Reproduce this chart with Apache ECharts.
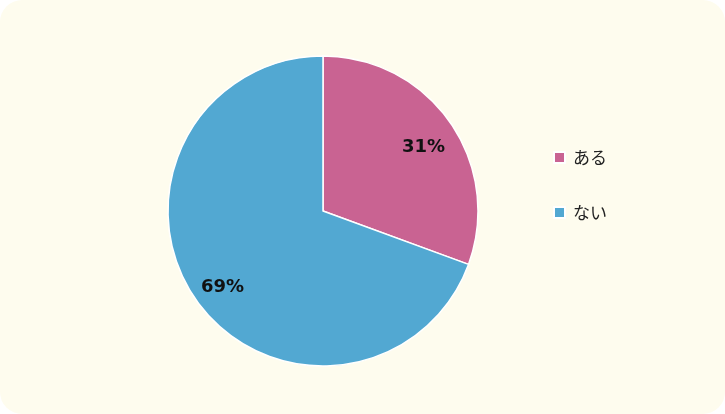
<!DOCTYPE html>
<html><head><meta charset="utf-8">
<script src="https://cdn.jsdelivr.net/npm/echarts@6/dist/echarts.min.js"></script>
<style>
html,body{margin:0;padding:0;background:#ffffff;}
#wrap{position:absolute;left:0;top:0;width:725px;height:414px;background:#FEFCEE;border-radius:22px;overflow:hidden;}
#c{width:725px;height:414px;}
</style></head><body>
<div id="wrap"><div id="c"></div></div>
<script>
var categories = ['ある', 'ない'];
var values = [30.6, 69.4];
var colors = ['#C96392', '#52A8D2'];

var chart = echarts.init(document.getElementById('c'), null, {renderer:'canvas'});
var data = categories.map(function(n,i){return {name:n, value:values[i], itemStyle:{color:colors[i]}};});
chart.setOption({
  backgroundColor:'transparent',
  animation:false,
  legend:{
    orient:'vertical', left:548, top:144,
    itemWidth:11, itemHeight:11, itemGap:38,
    icon:'rect',
    textStyle:{fontFamily:'Noto Sans CJK JP', fontSize:17, color:'#222', padding:[0,0,0,3]},
    data:categories
  },
  series:[{
    type:'pie', center:[323,211], radius:[0,155], startAngle:90, clockwise:true,
    itemStyle:{borderColor:'#ffffff', borderWidth:1.5},
    label:{show:false}, labelLine:{show:false},
    emphasis:{disabled:true},
    data:data
  },{
    type:'pie', center:[323,211], radius:[84,155], startAngle:90, clockwise:true,
    silent:true, percentPrecision:0,
    itemStyle:{color:'transparent', borderWidth:0},
    label:{show:true, position:'inside', formatter:'{d}%', offset:[0,6], fontFamily:'DejaVu Sans', fontWeight:'bold', fontSize:18, color:'#111'},
    labelLine:{show:false},
    emphasis:{disabled:true},
    data:categories.map(function(n,i){return {name:n, value:values[i], itemStyle:{color:'transparent'}};})
  }]
});
</script></body></html>
